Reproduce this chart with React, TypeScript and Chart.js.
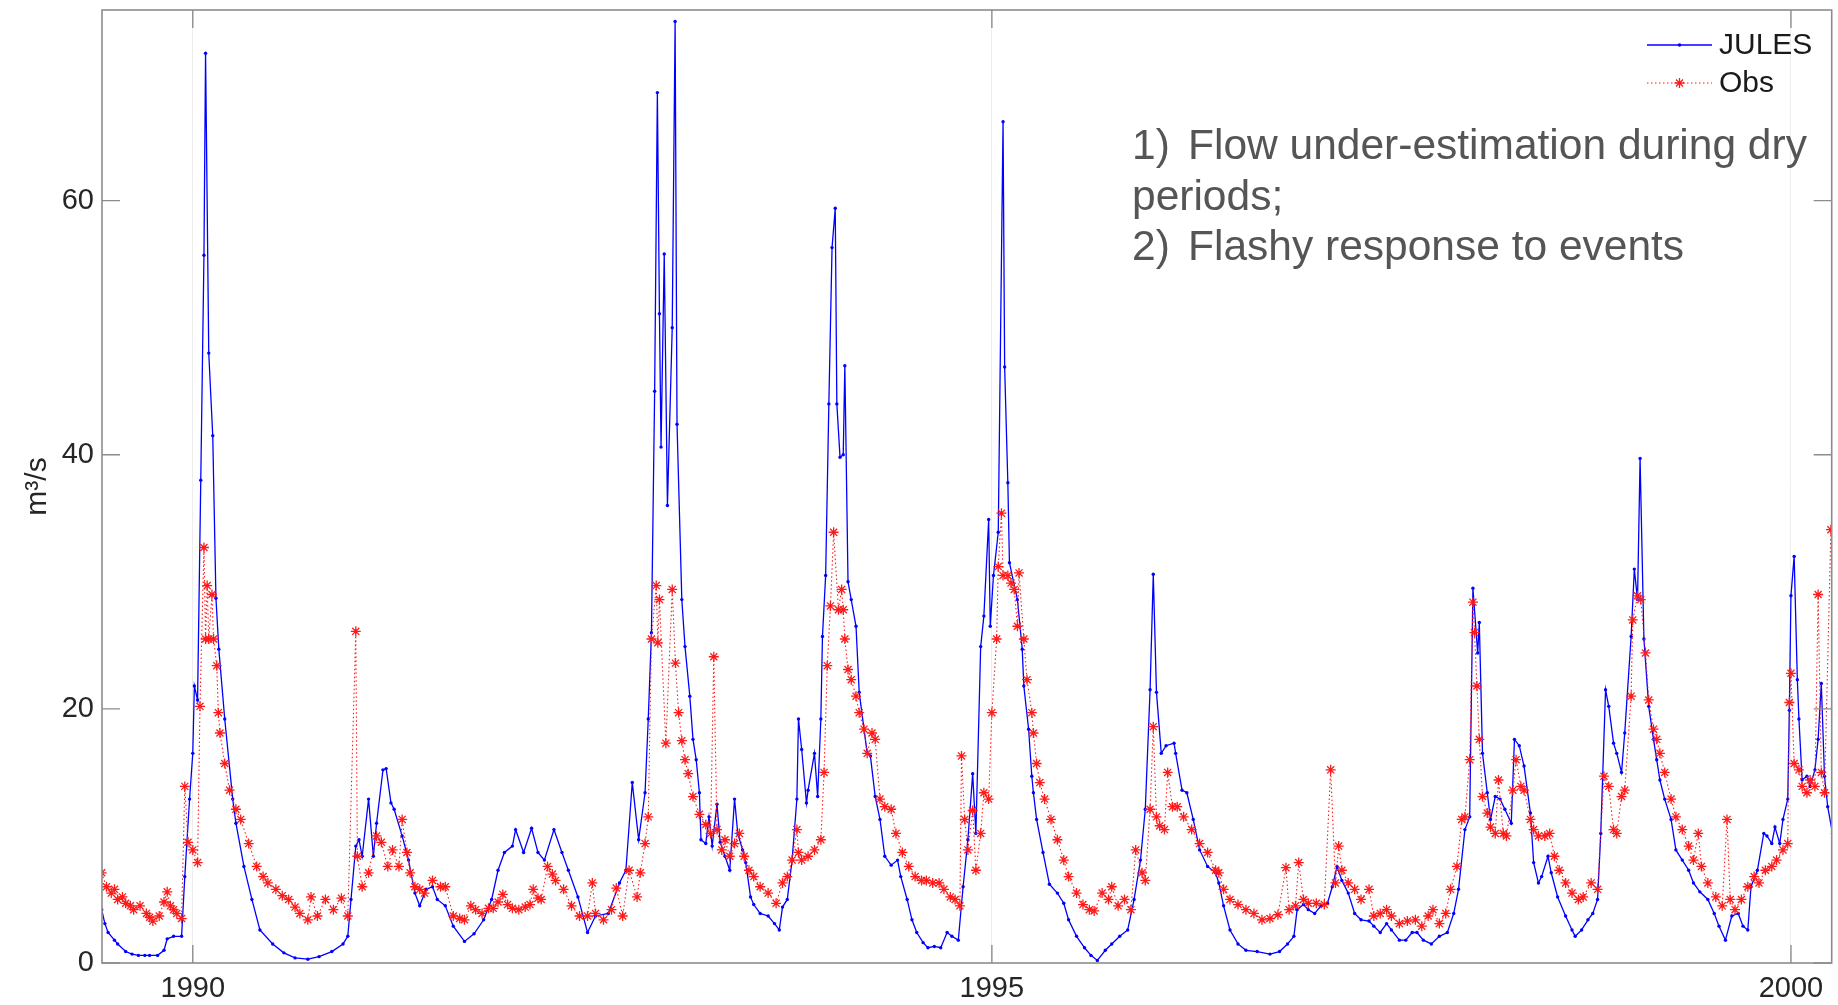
import React, { useEffect, useRef } from "react";
import { Chart, registerables } from "chart.js";

Chart.register(...registerables);

const FONT = '"Liberation Sans", Arial, Helvetica, sans-serif';

const X_TICKS = [1990, 1995, 2000];
const Y_TICKS = [0, 20, 40, 60];
const X_MIN = 1989.432;
const X_MAX = 2000.255;
const Y_MIN = 0;
const Y_MAX = 75;

const SERIES_NAMES = ["JULES", "Obs"];
const Y_TITLE = "m³/s";
const NOTE_LINES = [
  { num: "1)", text: "Flow under-estimation during dry" },
  { num: "", text: "periods;" },
  { num: "2)", text: "Flashy response to events" },
];

// JULES simulated flow (decimal year, m3/s)
const JULES_T = [
  1989.43, 1989.45, 1989.47, 1989.51, 1989.53, 1989.58, 1989.62, 1989.66, 1989.7, 1989.73,
  1989.78, 1989.82, 1989.84, 1989.88, 1989.93, 1989.95, 1989.98, 1990.0, 1990.01, 1990.03,
  1990.05, 1990.07, 1990.08, 1990.1, 1990.125, 1990.145, 1990.163, 1990.2, 1990.25, 1990.27,
  1990.32, 1990.37, 1990.42, 1990.5, 1990.57, 1990.64, 1990.72, 1990.79, 1990.87, 1990.94,
  1990.97, 1990.99, 1991.02, 1991.04, 1991.06, 1991.1, 1991.13, 1991.15, 1991.19, 1991.21,
  1991.24, 1991.26, 1991.31, 1991.35, 1991.39, 1991.42, 1991.46, 1991.5, 1991.53, 1991.58,
  1991.63, 1991.7, 1991.76, 1991.82, 1991.87, 1991.91, 1991.95, 1992.0, 1992.02, 1992.07,
  1992.12, 1992.16, 1992.2, 1992.26, 1992.31, 1992.35, 1992.41, 1992.47, 1992.52, 1992.6,
  1992.67, 1992.71, 1992.75, 1992.79, 1992.83, 1992.85, 1992.87, 1992.89, 1992.907, 1992.92,
  1992.93, 1992.95, 1992.97, 1993.0, 1993.018, 1993.03, 1993.06, 1993.08, 1993.11, 1993.13,
  1993.15, 1993.17, 1993.18, 1993.21, 1993.23, 1993.25, 1993.28, 1993.3, 1993.33, 1993.36,
  1993.39, 1993.41, 1993.44, 1993.46, 1993.49, 1993.51, 1993.55, 1993.6, 1993.64, 1993.67,
  1993.69, 1993.72, 1993.75, 1993.78, 1993.79, 1993.81, 1993.84, 1993.85, 1993.89, 1993.91,
  1993.93, 1993.94, 1993.96, 1993.98, 1994.0, 1994.02, 1994.03, 1994.05, 1994.07, 1994.08,
  1994.1, 1994.12, 1994.15, 1994.17, 1994.22, 1994.24, 1994.27, 1994.3, 1994.33, 1994.37,
  1994.41, 1994.43, 1994.47, 1994.5, 1994.53, 1994.57, 1994.6, 1994.64, 1994.68, 1994.72,
  1994.75, 1994.79, 1994.82, 1994.85, 1994.88, 1994.9, 1994.93, 1994.95, 1994.98, 1994.99,
  1995.01, 1995.04, 1995.07, 1995.08, 1995.1, 1995.11, 1995.16, 1995.19, 1995.2, 1995.23,
  1995.25, 1995.26, 1995.28, 1995.32, 1995.36, 1995.41, 1995.45, 1995.48, 1995.53, 1995.58,
  1995.62, 1995.66, 1995.71, 1995.75, 1995.8, 1995.85, 1995.89, 1995.93, 1995.96, 1995.99,
  1996.01, 1996.03, 1996.06, 1996.09, 1996.14, 1996.15, 1996.19, 1996.22, 1996.26, 1996.3,
  1996.35, 1996.4, 1996.42, 1996.45, 1996.49, 1996.54, 1996.59, 1996.66, 1996.74, 1996.8,
  1996.85, 1996.89, 1996.91, 1996.95, 1996.98, 1997.02, 1997.06, 1997.1, 1997.13, 1997.16,
  1997.19, 1997.23, 1997.27, 1997.31, 1997.36, 1997.39, 1997.43, 1997.47, 1997.5, 1997.55,
  1997.59, 1997.63, 1997.66, 1997.7, 1997.75, 1997.8, 1997.85, 1997.89, 1997.92, 1997.96,
  1997.99, 1998.01, 1998.04, 1998.05, 1998.07, 1998.1, 1998.12, 1998.15, 1998.18, 1998.21,
  1998.25, 1998.27, 1998.3, 1998.33, 1998.37, 1998.39, 1998.42, 1998.44, 1998.48, 1998.5,
  1998.54, 1998.59, 1998.63, 1998.65, 1998.69, 1998.73, 1998.76, 1998.79, 1998.81, 1998.84,
  1998.86, 1998.89, 1998.91, 1998.94, 1998.96, 1999.0, 1999.02, 1999.04, 1999.056, 1999.08,
  1999.11, 1999.14, 1999.16, 1999.18, 1999.21, 1999.25, 1999.28, 1999.32, 1999.36, 1999.39,
  1999.43, 1999.48, 1999.52, 1999.55, 1999.59, 1999.63, 1999.67, 1999.7, 1999.73, 1999.75,
  1999.79, 1999.83, 1999.85, 1999.88, 1999.9, 1999.93, 1999.95, 1999.98, 1999.99, 2000.0,
  2000.02, 2000.04, 2000.05, 2000.07, 2000.1, 2000.12, 2000.15, 2000.17, 2000.19, 2000.21,
  2000.23, 2000.26,
];
const JULES_V = [
  4.2, 3.1, 2.4, 1.8, 1.5, 0.9, 0.7, 0.6, 0.6, 0.6,
  0.6, 1.0, 1.9, 2.1, 2.1, 6.8, 12.9, 16.5, 21.8, 20.7,
  38.0, 55.7, 71.6, 48.0, 41.5, 28.7, 24.7, 19.2, 12.9, 11.0,
  7.6, 5.0, 2.6, 1.5, 0.8, 0.4, 0.3, 0.5, 0.9, 1.5,
  2.1, 5.0, 9.2, 9.7, 8.4, 12.9, 8.4, 11.0, 15.2, 15.3,
  12.6, 12.1, 10.0, 8.1, 5.5, 4.5, 5.8, 6.0, 5.0, 4.5,
  2.9, 1.7, 2.3, 3.4, 5.0, 7.3, 8.7, 9.2, 10.5, 8.7,
  10.6, 8.7, 8.1, 10.5, 8.7, 7.3, 5.2, 2.4, 3.7, 3.9,
  6.3, 7.3, 14.2, 9.7, 13.4, 19.2, 26.0, 45.0, 68.5, 51.1,
  40.6, 55.8, 36.0, 50.0, 74.1, 42.4, 28.6, 24.9, 21.0, 17.6,
  16.0, 13.4, 9.7, 9.4, 11.5, 9.2, 12.5, 9.5, 8.4, 7.3,
  12.9, 10.2, 8.9, 7.9, 5.2, 4.6, 3.9, 3.7, 3.1, 2.6,
  4.4, 5.0, 8.1, 12.9, 19.2, 16.8, 12.6, 13.6, 16.5, 13.1,
  19.2, 25.7, 30.5, 44.0, 56.3, 59.4, 44.0, 39.8, 40.0, 47.0,
  30.0, 28.6, 26.5, 21.3, 16.5, 16.3, 13.1, 11.3, 8.4, 7.7,
  8.1, 6.8, 5.0, 3.4, 2.4, 1.6, 1.2, 1.3, 1.2, 2.4,
  2.1, 1.8, 6.0, 9.7, 14.9, 10.2, 24.9, 27.3, 34.9, 26.5,
  30.5, 33.9, 66.2, 46.9, 37.8, 31.5, 28.6, 24.7, 21.8, 18.4,
  14.7, 13.4, 11.3, 8.7, 6.2, 5.5, 4.7, 3.4, 2.1, 1.2,
  0.6, 0.2, 1.0, 1.5, 2.1, 2.6, 5.0, 8.1, 12.1, 21.5,
  30.6, 21.3, 16.5, 17.1, 17.3, 16.5, 13.6, 13.4, 11.3, 8.9,
  7.6, 7.1, 6.3, 4.5, 2.6, 1.5, 1.0, 0.9, 0.7, 0.9,
  1.5, 2.1, 4.2, 4.6, 4.2, 3.9, 4.5, 4.7, 6.0, 7.6,
  6.5, 5.5, 3.9, 3.4, 3.3, 2.9, 2.4, 3.1, 2.6, 1.8,
  1.8, 2.4, 2.4, 1.8, 1.5, 2.1, 2.4, 3.9, 5.8, 10.5,
  11.5, 29.5, 24.4, 26.8, 16.5, 13.4, 11.3, 13.1, 12.9, 12.1,
  11.0, 17.6, 17.1, 15.5, 11.8, 7.9, 6.3, 6.8, 8.4, 7.1,
  5.2, 3.7, 2.6, 2.1, 2.6, 3.4, 3.9, 5.0, 10.2, 21.5,
  20.2, 17.3, 16.5, 15.0, 18.1, 25.7, 31.0, 28.6, 39.7, 25.5,
  20.2, 17.6, 16.0, 14.4, 12.9, 11.3, 8.9, 8.1, 7.3, 6.3,
  5.6, 5.0, 3.9, 2.9, 1.8, 3.7, 3.9, 2.9, 2.6, 6.0,
  7.3, 10.2, 10.0, 9.4, 10.7, 9.4, 11.3, 12.9, 19.9, 28.9,
  32.0, 22.3, 19.2, 14.4, 14.7, 13.9, 15.2, 17.6, 22.0, 14.7,
  12.3, 10.2,
];

// Observed flow (decimal year, m3/s)
const OBS_T = [
  1989.43, 1989.46, 1989.49, 1989.51, 1989.53, 1989.56, 1989.58, 1989.61, 1989.63, 1989.67,
  1989.71, 1989.73, 1989.75, 1989.79, 1989.82, 1989.84, 1989.86, 1989.88, 1989.9, 1989.93,
  1989.95, 1989.97, 1990.0, 1990.03, 1990.045, 1990.07, 1990.08, 1990.09, 1990.1, 1990.12,
  1990.13, 1990.15, 1990.16, 1990.17, 1990.2, 1990.23, 1990.27, 1990.3, 1990.35, 1990.4,
  1990.44, 1990.47, 1990.52, 1990.56, 1990.6, 1990.64, 1990.67, 1990.72, 1990.74, 1990.78,
  1990.83, 1990.88, 1990.93, 1990.97, 1991.02, 1991.03, 1991.06, 1991.1, 1991.15, 1991.18,
  1991.22, 1991.25, 1991.29, 1991.31, 1991.34, 1991.36, 1991.39, 1991.42, 1991.45, 1991.5,
  1991.55, 1991.58, 1991.63, 1991.67, 1991.7, 1991.74, 1991.77, 1991.81, 1991.85, 1991.88,
  1991.91, 1991.94, 1991.97, 1992.0, 1992.04, 1992.08, 1992.11, 1992.13, 1992.16, 1992.18,
  1992.22, 1992.25, 1992.27, 1992.32, 1992.37, 1992.42, 1992.47, 1992.5, 1992.52, 1992.57,
  1992.62, 1992.65, 1992.69, 1992.73, 1992.78, 1992.8, 1992.83, 1992.85, 1992.87, 1992.9,
  1992.91, 1992.92, 1992.96, 1993.0, 1993.02, 1993.04, 1993.06, 1993.08, 1993.1, 1993.13,
  1993.17, 1993.21, 1993.24, 1993.26, 1993.28, 1993.31, 1993.33, 1993.36, 1993.39, 1993.42,
  1993.45, 1993.48, 1993.51, 1993.55, 1993.6, 1993.65, 1993.69, 1993.72, 1993.75, 1993.78,
  1993.79, 1993.81, 1993.85, 1993.89, 1993.93, 1993.95, 1993.97, 1993.99, 1994.01, 1994.04,
  1994.06, 1994.07, 1994.08, 1994.1, 1994.12, 1994.15, 1994.17, 1994.2, 1994.22, 1994.25,
  1994.27, 1994.3, 1994.33, 1994.37, 1994.4, 1994.44, 1994.48, 1994.52, 1994.56, 1994.59,
  1994.63, 1994.67, 1994.7, 1994.74, 1994.77, 1994.8, 1994.81, 1994.83, 1994.85, 1994.88,
  1994.9, 1994.93, 1994.95, 1994.98, 1995.0, 1995.03, 1995.04, 1995.06, 1995.07, 1995.1,
  1995.12, 1995.14, 1995.16, 1995.17, 1995.2, 1995.22, 1995.25, 1995.26, 1995.28, 1995.3,
  1995.33, 1995.37, 1995.41, 1995.45, 1995.48, 1995.53, 1995.57, 1995.61, 1995.64, 1995.69,
  1995.73, 1995.75, 1995.79, 1995.83, 1995.87, 1995.9, 1995.94, 1995.96, 1995.99, 1996.01,
  1996.03, 1996.05, 1996.08, 1996.1, 1996.13, 1996.16, 1996.2, 1996.25, 1996.3, 1996.35,
  1996.4, 1996.42, 1996.45, 1996.49, 1996.54, 1996.59, 1996.64, 1996.69, 1996.74, 1996.79,
  1996.84, 1996.86, 1996.9, 1996.92, 1996.95, 1996.98, 1997.03, 1997.08, 1997.12, 1997.15,
  1997.17, 1997.19, 1997.23, 1997.27, 1997.31, 1997.36, 1997.39, 1997.43, 1997.47, 1997.5,
  1997.55, 1997.6, 1997.65, 1997.69, 1997.73, 1997.76, 1997.8, 1997.84, 1997.87, 1997.91,
  1997.94, 1997.96, 1997.99, 1998.01, 1998.02, 1998.035, 1998.05, 1998.07, 1998.1, 1998.12,
  1998.15, 1998.17, 1998.2, 1998.22, 1998.26, 1998.28, 1998.31, 1998.33, 1998.37, 1998.39,
  1998.42, 1998.46, 1998.49, 1998.52, 1998.55, 1998.59, 1998.63, 1998.67, 1998.7, 1998.75,
  1998.79, 1998.83, 1998.86, 1998.89, 1998.91, 1998.94, 1998.96, 1999.0, 1999.01, 1999.04,
  1999.06, 1999.09, 1999.11, 1999.14, 1999.16, 1999.18, 1999.21, 1999.25, 1999.28, 1999.32,
  1999.36, 1999.39, 1999.42, 1999.44, 1999.48, 1999.53, 1999.57, 1999.6, 1999.62, 1999.65,
  1999.69, 1999.73, 1999.77, 1999.8, 1999.84, 1999.88, 1999.91, 1999.95, 1999.98, 1999.99,
  2000.0, 2000.02, 2000.05, 2000.07, 2000.1, 2000.12, 2000.15, 2000.17, 2000.19, 2000.21,
  2000.25,
];
const OBS_V = [
  7.1, 6.0, 5.5, 5.8, 5.0, 5.2, 4.7, 4.5, 4.2, 4.5,
  3.9, 3.6, 3.3, 3.7, 4.8, 5.6, 4.5, 4.2, 3.9, 3.5,
  13.9, 9.5, 8.9, 7.9, 20.2, 32.7, 25.5, 29.7, 25.5, 29.0,
  25.5, 23.4, 19.7, 18.1, 15.7, 13.6, 12.1, 11.3, 9.4, 7.6,
  6.8, 6.3, 5.8, 5.3, 5.0, 4.4, 3.9, 3.4, 5.2, 3.7,
  5.0, 4.2, 5.1, 3.7, 26.1, 8.4, 6.0, 7.1, 10.0, 9.5,
  7.6, 8.9, 7.6, 11.3, 8.7, 7.1, 6.0, 5.8, 5.5, 6.5,
  6.0, 6.0, 3.7, 3.5, 3.4, 4.5, 4.2, 3.9, 4.3, 4.3,
  4.8, 5.4, 4.6, 4.3, 4.2, 4.4, 4.6, 5.8, 5.1, 5.0,
  7.6, 7.0, 6.5, 5.8, 4.5, 3.7, 3.7, 6.3, 3.9, 3.4,
  4.2, 5.9, 3.7, 7.3, 5.2, 7.1, 9.4, 11.5, 25.5, 29.7,
  25.2, 28.6, 17.3, 29.4, 23.6, 19.7, 17.5, 16.0, 14.9, 13.1,
  11.7, 10.9, 10.2, 24.1, 10.5, 8.9, 9.7, 8.4, 9.4, 10.2,
  8.4, 7.3, 6.8, 6.0, 5.5, 4.7, 6.3, 6.8, 8.1, 10.5,
  8.7, 8.1, 8.4, 8.9, 9.7, 15.0, 23.4, 28.1, 33.9, 27.8,
  29.4, 27.8, 25.5, 23.1, 22.3, 21.0, 19.7, 18.4, 16.5, 18.1,
  17.6, 12.9, 12.3, 12.1, 10.2, 8.7, 7.6, 6.8, 6.5, 6.5,
  6.3, 6.3, 5.8, 5.2, 5.0, 4.5, 16.3, 11.3, 8.9, 12.0,
  7.3, 10.2, 13.4, 12.9, 19.7, 25.5, 31.2, 35.4, 30.5, 30.5,
  29.9, 29.4, 26.5, 30.7, 25.5, 22.3, 19.7, 18.1, 15.7, 14.2,
  12.9, 11.3, 9.7, 8.1, 6.8, 5.5, 4.6, 4.2, 4.1, 5.5,
  5.0, 6.0, 4.5, 5.0, 4.2, 8.9, 7.1, 6.5, 12.1, 18.6,
  11.5, 10.8, 10.5, 15.0, 12.3, 12.3, 11.5, 10.5, 9.4, 8.7,
  7.3, 7.1, 5.8, 5.0, 4.6, 4.2, 3.9, 3.4, 3.5, 3.8,
  7.5, 4.2, 4.5, 7.9, 5.0, 4.7, 4.7, 4.6, 15.2, 6.3,
  9.2, 7.3, 6.3, 5.8, 5.0, 5.8, 3.7, 3.9, 4.2, 3.7,
  3.1, 3.3, 3.4, 2.9, 3.7, 4.2, 3.1, 3.9, 5.8, 7.6,
  11.3, 11.5, 16.0, 28.4, 26.0, 21.8, 17.6, 13.1, 11.8, 10.7,
  10.2, 14.4, 10.2, 10.0, 13.6, 16.0, 13.9, 13.6, 11.3, 10.5,
  10.0, 10.0, 10.2, 8.4, 7.3, 6.3, 5.5, 5.0, 5.2, 6.3,
  5.8, 14.7, 13.9, 10.5, 10.2, 13.1, 13.6, 21.0, 27.0, 28.9,
  28.6, 24.4, 20.7, 18.4, 17.6, 16.5, 15.0, 12.9, 11.5, 10.5,
  9.2, 8.1, 10.2, 7.6, 6.3, 5.2, 4.5, 11.3, 5.0, 4.2,
  5.0, 6.0, 6.8, 6.3, 7.3, 7.6, 8.1, 8.9, 9.4, 20.5,
  22.8, 15.7, 15.2, 13.9, 13.4, 14.4, 13.9, 29.0, 15.0, 13.4,
  34.1,
];

const BLUE = "#0000ff";
const RED = "#ff1a1a";
const AXIS_GRAY = "#8c8c8c";

export default function App() {
  const ref = useRef<HTMLCanvasElement | null>(null);

  useEffect(() => {
    if (!ref.current) return;

    const matlabAxes = {
      id: "matlabAxes",
      afterDatasetsDraw(chart: any) {
        const { ctx, chartArea } = chart;
        const xs = chart.scales.x;
        const ys = chart.scales.y;
        const { left, right, top, bottom } = chartArea;
        const TL = 18;
        ctx.save();
        ctx.strokeStyle = AXIS_GRAY;
        ctx.lineWidth = 1.6;
        ctx.strokeRect(left, top, right - left, bottom - top);
        ctx.lineWidth = 1.4;
        ctx.beginPath();
        for (const v of X_TICKS) {
          const px = xs.getPixelForValue(v);
          ctx.moveTo(px, bottom);
          ctx.lineTo(px, bottom - TL);
          ctx.moveTo(px, top);
          ctx.lineTo(px, top + TL);
        }
        for (const v of Y_TICKS) {
          const py = ys.getPixelForValue(v);
          ctx.moveTo(left, py);
          ctx.lineTo(left + TL, py);
          ctx.moveTo(right, py);
          ctx.lineTo(right - TL, py);
        }
        ctx.stroke();
        ctx.restore();
      },
      afterDraw(chart: any) {
        const { ctx } = chart;
        const x0 = 1647;
        const x1 = 1712;
        const xm = (x0 + x1) / 2;
        const rows = [45, 83];
        ctx.save();
        // JULES sample
        ctx.strokeStyle = BLUE;
        ctx.lineWidth = 1.3;
        ctx.beginPath();
        ctx.moveTo(x0, rows[0]);
        ctx.lineTo(x1, rows[0]);
        ctx.stroke();
        ctx.fillStyle = BLUE;
        ctx.beginPath();
        ctx.arc(xm, rows[0], 1.8, 0, Math.PI * 2);
        ctx.fill();
        // Obs sample
        ctx.strokeStyle = RED;
        ctx.lineWidth = 1.1;
        ctx.setLineDash([1.5, 2.5]);
        ctx.beginPath();
        ctx.moveTo(x0, rows[1]);
        ctx.lineTo(x1, rows[1]);
        ctx.stroke();
        ctx.setLineDash([]);
        ctx.lineWidth = 1.3;
        ctx.beginPath();
        const r = 5;
        for (let k = 0; k < 4; k++) {
          const a = (k * Math.PI) / 4;
          ctx.moveTo(xm - r * Math.cos(a), rows[1] - r * Math.sin(a));
          ctx.lineTo(xm + r * Math.cos(a), rows[1] + r * Math.sin(a));
        }
        ctx.stroke();
        // labels
        ctx.fillStyle = "#1a1a1a";
        ctx.font = `30px ${FONT}`;
        ctx.textBaseline = "middle";
        ctx.textAlign = "left";
        ctx.fillText(SERIES_NAMES[0], 1719, rows[0] + 1);
        ctx.fillText(SERIES_NAMES[1], 1719, rows[1] + 1);
        ctx.restore();
      },
    };

    const chart = new Chart(ref.current, {
      type: "line",
      data: {
        datasets: [
          {
            label: SERIES_NAMES[0],
            data: JULES_T.map((t, i) => ({ x: t, y: JULES_V[i] })),
            borderColor: BLUE,
            backgroundColor: BLUE,
            borderWidth: 1.3,
            pointRadius: 1.7,
            pointBorderWidth: 0,
            pointBackgroundColor: BLUE,
            tension: 0,
            order: 2,
          },
          {
            label: SERIES_NAMES[1],
            data: OBS_T.map((t, i) => ({ x: t, y: OBS_V[i] })),
            borderColor: RED,
            backgroundColor: RED,
            borderWidth: 1.1,
            borderDash: [1.5, 2.5],
            pointStyle: "star",
            pointRadius: 5,
            pointBorderWidth: 1.3,
            pointBorderColor: RED,
            tension: 0,
            order: 1,
          },
        ],
      },
      options: {
        animation: false,
        responsive: false,
        events: [],
        layout: { padding: { top: 10, right: 3, left: 0, bottom: 0 } },
        plugins: {
          legend: { display: false },
          tooltip: { enabled: false },
        },
        scales: {
          x: {
            type: "linear",
            min: X_MIN,
            max: X_MAX,
            afterBuildTicks: (s: any) => {
              s.ticks = X_TICKS.map((v) => ({ value: v }));
            },
            afterFit: (s: any) => {
              s.height = 42;
              s.paddingLeft = 0;
              s.paddingRight = 0;
            },
            ticks: {
              autoSkip: false,
              maxRotation: 0,
              padding: 9,
              color: "#262626",
              font: { family: FONT, size: 29 },
              callback: (v: any) => String(v),
            },
            grid: {
              color: "rgba(0,0,0,0.07)",
              lineWidth: 1,
              drawTicks: false,
            },
            border: { display: false },
          },
          y: {
            min: Y_MIN,
            max: Y_MAX,
            afterBuildTicks: (s: any) => {
              s.ticks = Y_TICKS.map((v) => ({ value: v }));
            },
            afterFit: (s: any) => {
              s.width = 102;
              s.paddingTop = 0;
              s.paddingBottom = 0;
            },
            ticks: {
              padding: 8,
              color: "#262626",
              font: { family: FONT, size: 29 },
              callback: (v: any) => String(v),
            },
            grid: { display: false, drawTicks: false },
            border: { display: false },
            title: {
              display: true,
              text: Y_TITLE,
              color: "#262626",
              font: { family: FONT, size: 30 },
              padding: { top: 20, bottom: 0 },
            },
          },
        },
      },
      plugins: [matlabAxes],
    } as any);

    return () => chart.destroy();
  }, []);

  return (
    <div
      style={{
        position: "fixed",
        left: 0,
        top: 0,
        width: 1838,
        height: 1005,
        background: "#ffffff",
        overflow: "hidden",
      }}
    >
      <canvas ref={ref} width={1838} height={1005} style={{ display: "block" }} />
      <div
        style={{
          position: "absolute",
          left: 1132,
          top: 120,
          fontFamily: FONT,
          fontSize: 42.5,
          lineHeight: "50.5px",
          color: "#555555",
          whiteSpace: "nowrap",
        }}
      >
        {NOTE_LINES.map((ln, i) => (
          <div key={i}>
            {ln.num ? (
              <span style={{ display: "inline-block", width: 56 }}>{ln.num}</span>
            ) : null}
            {ln.text}
          </div>
        ))}
      </div>
    </div>
  );
}
